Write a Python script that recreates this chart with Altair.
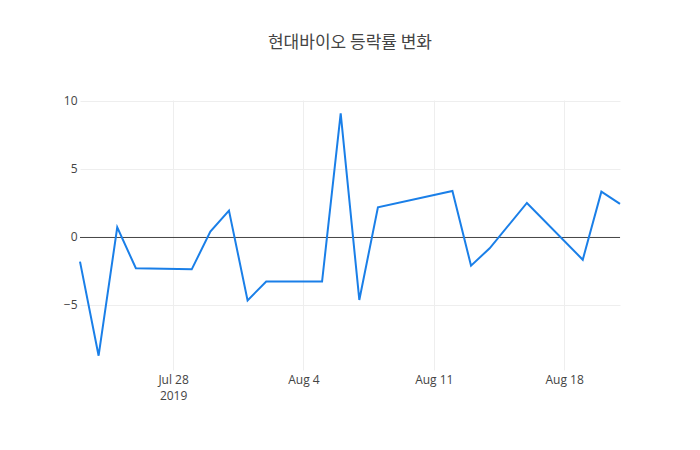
import altair as alt
import pandas as pd

# trading days and daily change (%)
dates = [
    "2019-07-23", "2019-07-24", "2019-07-25", "2019-07-26", "2019-07-29",
    "2019-07-30", "2019-07-31", "2019-08-01", "2019-08-02", "2019-08-05",
    "2019-08-06", "2019-08-07", "2019-08-08", "2019-08-12", "2019-08-13",
    "2019-08-14", "2019-08-16", "2019-08-19", "2019-08-20", "2019-08-21",
]
changes = [
    -1.81, -8.73, 0.71, -2.30, -2.38,
    0.39, 1.94, -4.66, -3.28, -3.28,
    9.09, -4.63, 2.18, 3.38, -2.11,
    -0.83, 2.50, -1.67, 3.33, 2.43,
]
y_ticks = [-5, 0, 5, 10]
x_ticks = [(7, 28), (8, 4), (8, 11), (8, 18)]

df = pd.DataFrame({"date": dates, "change": changes})
font = "Open Sans"

x_enc = alt.X(
    "date:T",
    scale=alt.Scale(
        type="utc",
        domain=[
            alt.DateTime(year=2019, month=7, date=23, utc=True),
            alt.DateTime(year=2019, month=8, date=21, utc=True),
        ],
    ),
    axis=alt.Axis(
        title=None,
        values=[alt.DateTime(year=2019, month=m, date=d, utc=True) for m, d in x_ticks],
        labelExpr="utcdate(datum.value) == 28 ? [utcFormat(datum.value, '%b %-d'), '2019'] : utcFormat(datum.value, '%b %-d')",
        gridColor="#eeeeee",
        domain=False,
        ticks=False,
        labelPadding=4,
        labelLineHeight=16,
    ),
)

line = (
    alt.Chart(df)
    .mark_line(color="#1a7fe8", strokeWidth=2)
    .encode(
        x=x_enc,
        y=alt.Y(
            "change:Q",
            scale=alt.Scale(domain=[-9.78, 10.07], nice=False, zero=False),
            axis=alt.Axis(
                title=None,
                values=y_ticks,
                gridColor="#eeeeee",
                domain=False,
                ticks=False,
                labelPadding=3,
            ),
        ),
    )
)

# zero line
zero = (
    alt.Chart(pd.DataFrame({"y": [0]}))
    .mark_rule(color="#444444", strokeWidth=1, yOffset=0.5)
    .encode(y="y:Q")
)

chart = (
    (zero + line)
    .properties(
        width=540,
        height=270,
        autosize=alt.AutoSizeParams(type="none"),
        padding={"left": 72, "top": 92, "right": 72, "bottom": 72},
        title=alt.TitleParams(
            "현대바이오 등락률 변화",
            font="Noto Sans CJK KR",
            fontSize=17,
            fontWeight="normal",
            color="#444444",
            anchor="middle",
            offset=43,
        ),
    )
    .configure_view(strokeWidth=0)
    .configure_axis(labelFont=font, labelFontSize=12, labelColor="#444444")
)

chart.save("out.html", embed_options={"renderer": "svg", "actions": False})
